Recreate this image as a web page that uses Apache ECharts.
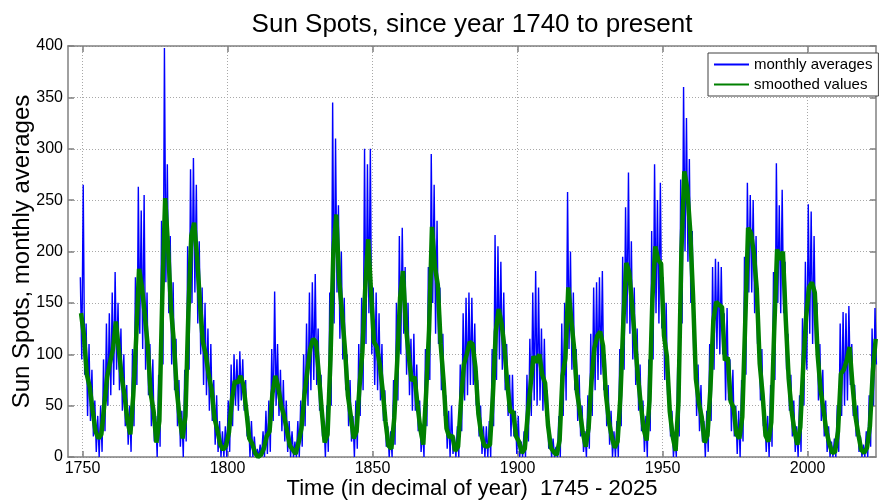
<!DOCTYPE html>
<html><head><meta charset="utf-8">
<script src="https://cdn.jsdelivr.net/npm/echarts@6/dist/echarts.min.js"></script>
<style>html,body{margin:0;padding:0;background:#fff}#c{width:880px;height:502px}</style>
</head><body><div id="c"></div>
<script>
const titleText = 'Sun Spots, since year 1740 to present';
const xName = 'Time (in decimal of year)  1745 - 2025';
const yName = 'Sun Spots, monthly averages';
const seriesNames = ['monthly averages', 'smoothed values'];
const xTicks = [1750, 1800, 1850, 1900, 1950, 2000];
const xMin = 1745, xMax = 2023.6;
const yMin = 0, yMax = 400, yStep = 50;
const firstYear = 1749;

// smoothed values, one per year (1749 .. 2023), placed at mid-year
const smoothValues = [
140,118,80,68,45,25,18,22,50,78,
92,105,132,105,78,60,35,22,60,115,
183,165,138,108,62,45,14,35,155,252,
205,145,112,65,38,18,40,140,215,228,
195,150,112,100,80,66,38,26,12,7,
11,24,55,74,72,79,70,45,18,13,
4,0,2,8,20,25,62,79,68,50,
40,26,11,7,3,14,28,60,83,105,
115,112,80,45,14,22,95,200,236,172,
140,105,60,40,18,25,68,102,165,212,
160,112,107,90,65,34,11,8,38,92,
155,181,128,98,74,78,51,27,12,63,
124,224,185,168,110,74,28,19,21,6,
10,54,90,100,112,110,87,42,22,11,
10,12,60,122,144,130,106,70,44,44,
20,15,4,8,41,70,98,92,100,80,
72,31,9,5,2,16,79,96,165,134,
106,63,44,24,10,28,74,106,118,122,
108,60,35,19,9,15,60,133,189,180,
148,113,79,51,27,16,55,154,205,192,
188,118,98,44,20,6,54,200,278,262,
222,158,76,53,39,14,21,66,132,151,
148,146,94,97,54,48,22,18,39,130,
223,218,198,163,91,61,21,15,34,123,
202,192,200,133,76,45,25,12,29,88,
136,165,170,160,99,65,46,25,13,4,
5,25,81,85,94,107,70,40,22,7,
4,9,30,83,115
];

// monthly averages: highest and lowest month read for each year (1749 .. 2023)
const monthlyHigh = [
175,265,130,110,85,55,40,50,95,130,
140,160,180,150,125,100,70,50,105,175,
263,240,255,160,110,95,40,80,230,398,
285,215,170,115,75,45,85,205,280,291,
265,210,165,150,125,110,75,60,35,25,
30,55,90,100,95,103,95,75,40,35,
20,8,12,25,45,55,105,161,110,85,
75,55,35,25,15,35,55,100,130,160,
170,178,125,80,35,50,160,345,310,245,
200,155,100,75,40,55,110,155,300,285,
300,165,160,140,110,65,30,25,75,150,
215,223,185,150,115,120,90,55,30,105,
185,295,265,230,165,120,60,45,50,20,
30,90,140,155,160,155,130,75,50,30,
30,35,105,216,205,190,160,110,80,80,
45,40,15,25,80,115,160,181,165,125,
115,65,25,18,10,40,130,150,258,200,
160,105,80,50,25,60,120,165,170,175,
181,100,70,45,25,35,105,195,243,277,
210,165,125,90,55,40,95,220,285,250,
267,175,150,80,45,20,95,270,360,330,
290,220,120,90,70,35,45,110,185,193,
190,185,140,145,95,85,50,45,75,195,
267,255,250,215,140,105,45,40,70,180,
286,245,260,190,120,80,55,30,60,135,
190,246,239,215,150,110,85,55,30,15,
18,50,130,141,140,147,110,70,50,20,
12,25,60,125,145
];
const monthlyLow = [
95,80,40,35,20,5,0,5,25,50,
60,70,85,65,45,30,12,5,30,70,
120,105,85,60,30,15,0,10,90,170,
140,90,65,30,10,0,15,85,150,160,
130,100,70,60,45,35,12,5,0,0,
0,5,30,50,45,55,45,20,0,0,
0,0,0,0,3,5,35,50,40,25,
15,5,0,0,0,0,10,30,50,65,
75,70,45,20,0,5,50,130,160,115,
95,65,30,15,0,8,40,65,110,140,
100,70,65,55,35,10,0,0,12,55,
100,120,80,60,45,45,25,5,0,30,
75,150,120,110,65,40,8,0,3,0,
0,25,55,60,70,70,50,20,3,0,
0,0,30,75,95,85,65,40,20,20,
3,0,0,0,15,40,55,50,55,45,
40,8,0,0,0,0,40,55,105,85,
65,35,20,5,0,8,40,65,75,80,
65,30,12,0,0,0,30,85,130,120,
95,70,45,25,5,0,25,95,140,130,
125,75,60,20,0,0,20,130,200,190,
150,100,40,25,15,0,5,35,85,105,
100,100,55,55,25,20,3,0,15,80,
160,160,140,110,55,30,5,0,10,75,
150,140,140,85,45,20,5,0,5,50,
85,120,110,110,55,35,20,5,0,0,
0,5,40,50,55,70,40,20,5,0,
0,0,10,50,90
];

const monthlyData = [];
monthlyHigh.forEach((h, i) => {
  monthlyData.push([firstYear + i + 0.25, h]);
  monthlyData.push([firstYear + i + 0.75, monthlyLow[i]]);
});
const smoothData = smoothValues.map((v, i) => [firstYear + i + 0.5, v]);

const FONT = 'Liberation Sans, Arial, sans-serif';
const AX = '#808080';
const chart = echarts.init(document.getElementById('c'), null, {renderer: 'canvas'});
chart.setOption({
  animation: false,
  backgroundColor: '#fff',
  grid: {left: 68, right: 4, top: 46, bottom: 45, containLabel: false, outerBoundsMode: 'none'},
  graphic: [{
    type: 'text', x: 472, y: 25, z: 10,
    style: {text: titleText, font: '26px ' + FONT, fill: '#000', align: 'center', verticalAlign: 'middle', textAlign: 'center', textVerticalAlign: 'middle'}
  }],
  legend: {
    data: seriesNames, orient: 'vertical', left: 708, top: 53,
    padding: [4, 6, 4, 5], itemGap: 5, itemWidth: 35, itemHeight: 14,
    borderColor: '#404040', borderWidth: 1, backgroundColor: '#fff',
    itemStyle: {opacity: 0},
    textStyle: {fontSize: 15, fontFamily: FONT, color: '#000'}
  },
  xAxis: [{
    type: 'value', min: xMin, max: xMax, position: 'bottom',
    name: xName, nameLocation: 'middle', nameGap: 21, nameMoveOverlap: false,
    nameTextStyle: {fontSize: 22, color: '#000', fontFamily: FONT},
    axisLine: {show: true, onZero: false, lineStyle: {color: AX, width: 1.5}},
    axisTick: {show: true, inside: true, length: 6, customValues: xTicks, lineStyle: {color: AX, width: 1.5}},
    axisLabel: {customValues: xTicks, margin: 4, fontSize: 16, color: '#000', fontFamily: FONT, formatter: v => String(v)},
    splitLine: {show: true, lineStyle: {color: '#a8a8a8', type: [1, 2], width: 1}}
  }, {
    type: 'value', min: xMin, max: xMax, position: 'top',
    axisLine: {show: true, onZero: false, lineStyle: {color: AX, width: 1.5}},
    axisTick: {show: true, inside: true, length: 6, customValues: xTicks, lineStyle: {color: AX, width: 1.5}},
    axisLabel: {show: false},
    splitLine: {show: false}
  }],
  yAxis: [{
    type: 'value', min: yMin, max: yMax, interval: yStep, position: 'left',
    name: yName, nameLocation: 'middle', nameGap: 34, nameMoveOverlap: false,
    nameTextStyle: {fontSize: 24, color: '#000', fontFamily: FONT},
    axisLine: {show: true, onZero: false, lineStyle: {color: AX, width: 1.5}},
    axisTick: {show: true, inside: true, length: 6, lineStyle: {color: AX, width: 1.5}},
    axisLabel: {margin: 5, fontSize: 16, color: '#000', fontFamily: FONT},
    splitLine: {show: true, lineStyle: {color: '#a8a8a8', type: [1, 2], width: 1}}
  }, {
    type: 'value', min: yMin, max: yMax, interval: yStep, position: 'right',
    axisLine: {show: true, onZero: false, lineStyle: {color: AX, width: 1.5}},
    axisTick: {show: true, inside: true, length: 6, lineStyle: {color: AX, width: 1.5}},
    axisLabel: {show: false},
    splitLine: {show: false}
  }],
  series: [{
    name: seriesNames[0], type: 'line', xAxisIndex: 0, yAxisIndex: 0,
    data: monthlyData, showSymbol: false, symbol: 'none', z: 2,
    lineStyle: {color: '#0000ff', width: 1.4}, itemStyle: {color: '#0000ff'}
  }, {
    name: seriesNames[1], type: 'line', xAxisIndex: 0, yAxisIndex: 0,
    data: smoothData, showSymbol: false, symbol: 'none', z: 3,
    lineStyle: {color: '#008000', width: 4.5}, itemStyle: {color: '#008000'}
  }]
});
</script></body></html>
